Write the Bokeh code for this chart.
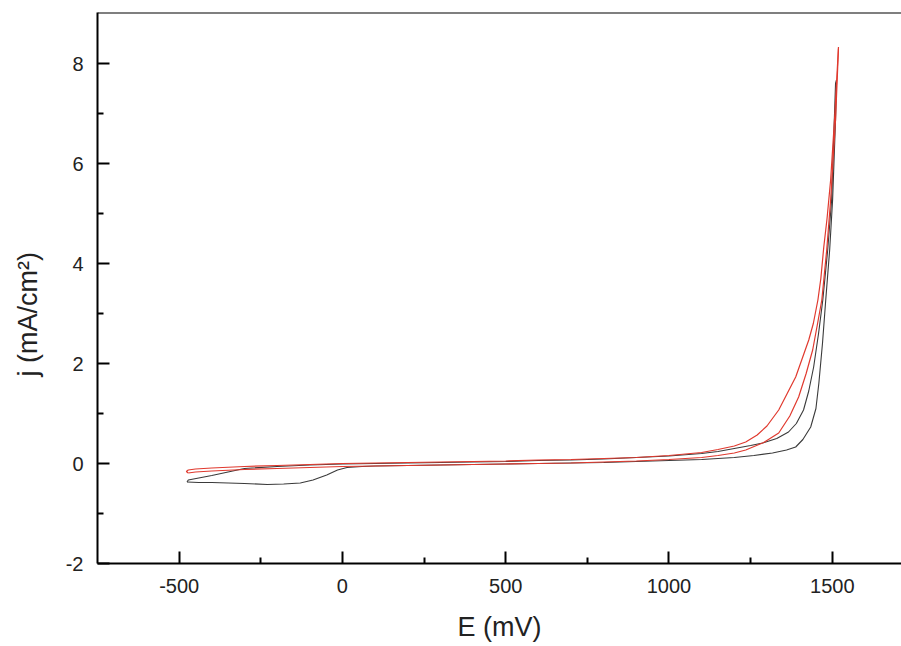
from bokeh.plotting import figure
from bokeh.models import FixedTicker, Span
from bokeh.embed import file_html
from bokeh.resources import INLINE

# ---- data ----
black_fwd_E = [-476, -440, -400, -350, -300, -230, -180, -129, -90, -48, -15, 14, 60, 100, 200, 300,
               400, 500, 600, 700, 800, 900, 1000, 1100, 1200, 1260, 1317, 1360, 1388, 1410, 1434,
               1450, 1459, 1470, 1480, 1492, 1501, 1510, 1513]
black_fwd_j = [-0.37, -0.38, -0.38, -0.39, -0.40, -0.42, -0.41, -0.39, -0.33, -0.23, -0.13, -0.08, -0.06,
               -0.05, -0.04, -0.03, -0.02, -0.01, 0.00, 0.01, 0.02, 0.04, 0.06, 0.08, 0.12, 0.16, 0.21,
               0.27, 0.33, 0.48, 0.73, 1.10, 1.61, 2.40, 3.27, 4.27, 5.27, 6.87, 7.67]

black_rev_E = [1513, 1510, 1498, 1486, 1471, 1458, 1443, 1428, 1412, 1390, 1366, 1330, 1287, 1250, 1200,
               1150, 1100, 1000, 900, 800, 700, 600, 500, 400, 300, 200, 100, 0, -100, -200, -300,
               -343, -400, -440, -472, -476]
black_rev_j = [7.67, 7.60, 5.27, 4.27, 3.27, 2.60, 1.93, 1.45, 1.07, 0.80, 0.63, 0.50, 0.41, 0.36, 0.30,
               0.24, 0.20, 0.15, 0.12, 0.09, 0.07, 0.06, 0.04, 0.03, 0.02, 0.01, 0.00, -0.01, -0.03,
               -0.06, -0.10, -0.16, -0.24, -0.29, -0.33, -0.37]

red_fwd_E = [-472, -450, -400, -300, -200, -100, 0, 100, 200, 300, 400, 500, 600, 700, 800, 900, 1000,
             1100, 1150, 1200, 1235, 1290, 1336, 1370, 1397, 1420, 1440, 1455, 1468, 1483, 1495, 1510, 1519]
red_fwd_j = [-0.19, -0.17, -0.15, -0.12, -0.10, -0.08, -0.06, -0.05, -0.04, -0.03, -0.02, -0.01, 0.00,
             0.01, 0.03, 0.05, 0.08, 0.12, 0.16, 0.21, 0.27, 0.42, 0.61, 0.95, 1.33, 1.80, 2.27, 2.80,
             3.27, 4.27, 5.27, 6.87, 8.30]

red_rev_E = [1519, 1508, 1495, 1484, 1474, 1465, 1456, 1442, 1428, 1408, 1388, 1362, 1336, 1300, 1270,
             1235, 1200, 1150, 1100, 1000, 900, 800, 700, 600, 500, 400, 300, 200, 100, 0, -100, -200,
             -300, -400, -450, -472, -478, -472]
red_rev_j = [8.33, 7.00, 5.67, 4.90, 4.33, 3.70, 3.27, 2.80, 2.47, 2.10, 1.73, 1.40, 1.07, 0.75, 0.57,
             0.43, 0.35, 0.28, 0.22, 0.16, 0.12, 0.10, 0.08, 0.07, 0.05, 0.04, 0.03, 0.02, 0.01, 0.00,
             -0.02, -0.04, -0.06, -0.09, -0.11, -0.13, -0.16, -0.19]

x_ticks = [-500, 0, 500, 1000, 1500]
x_tick_labels = ["-500", "0", "500", "1000", "1500"]
x_minor = [-250, 250, 750, 1250]
y_ticks = [-2, 0, 2, 4, 6, 8]
y_tick_labels = ["-2", "0", "2", "4", "6", "8"]
y_minor = [-1, 1, 3, 5, 7]

x_start, x_end = -750, 1712
y_start, y_end = -2, 9.02

p = figure(width=901, height=646, output_backend="svg", toolbar_location=None,
           x_range=(x_start, x_end), y_range=(y_start, y_end),
           min_border_left=97, min_border_right=0, min_border_top=12, min_border_bottom=83)
p.background_fill_color = "white"
p.border_fill_color = "white"
p.outline_line_color = None
p.grid.visible = False

blk = "#3a3a3a"
red = "#e0392e"
p.line(black_fwd_E, black_fwd_j, line_color=blk, line_width=1.1)
p.line(black_rev_E, black_rev_j, line_color=blk, line_width=1.1)
p.line(red_fwd_E, red_fwd_j, line_color=red, line_width=1.2)
p.line(red_rev_E, red_rev_j, line_color=red, line_width=1.2)

p.add_layout(Span(location=y_end, dimension="width", line_color="black", line_width=2))

for ax in (p.xaxis[0], p.yaxis[0]):
    ax.axis_line_width = 2
    ax.axis_line_color = "black"
    ax.major_tick_in = 12
    ax.major_tick_out = 0
    ax.minor_tick_in = 6
    ax.minor_tick_out = 0
    ax.major_tick_line_width = 2
    ax.minor_tick_line_width = 2
    ax.major_tick_line_color = "black"
    ax.minor_tick_line_color = "black"
    ax.major_label_text_font = "Liberation Sans"
    ax.major_label_text_font_size = "20px"
    ax.major_label_text_color = "#222222"
    ax.axis_label_text_font = "Liberation Sans"
    ax.axis_label_text_font_size = "27px"
    ax.axis_label_text_font_style = "normal"
    ax.axis_label_text_color = "#222222"

p.xaxis.ticker = FixedTicker(ticks=x_ticks, minor_ticks=x_minor)
p.yaxis.ticker = FixedTicker(ticks=y_ticks, minor_ticks=y_minor)
p.xaxis.major_label_overrides = dict(zip(x_ticks, x_tick_labels))
p.yaxis.major_label_overrides = dict(zip(y_ticks, y_tick_labels))
p.xaxis.major_label_standoff = 15
p.yaxis.major_label_standoff = 14
p.xaxis.axis_label = "E (mV)"
p.xaxis.axis_label_standoff = 16
p.yaxis.axis_label = "j (mA/cm²)" + "\u00a0" * 7
p.yaxis.axis_label_standoff = 20

open("out.html", "w").write(file_html(p, INLINE))
